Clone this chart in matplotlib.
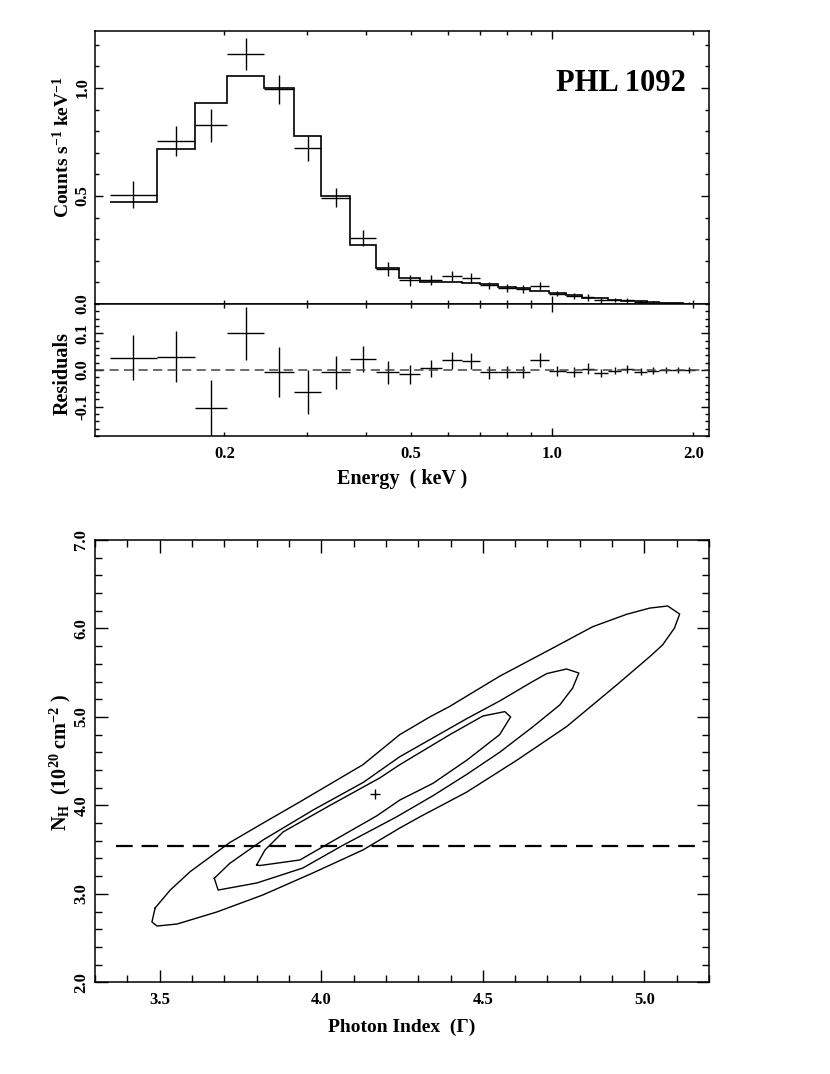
import numpy as np
import matplotlib
matplotlib.use("Agg")
import matplotlib.pyplot as plt
from matplotlib.ticker import MultipleLocator, FixedLocator, FuncFormatter

plt.rcParams['font.family'] = ['Liberation Serif', 'DejaVu Serif']
plt.rcParams['font.weight'] = 'bold'
plt.rcParams['mathtext.fontset'] = 'custom'
plt.rcParams['mathtext.rm'] = 'Liberation Serif:bold'
plt.rcParams['mathtext.it'] = 'Liberation Serif:italic:bold'
plt.rcParams['mathtext.bf'] = 'Liberation Serif:bold'
plt.rcParams['axes.unicode_minus'] = False

# spectrum: bin edges (keV), data, model, 1-sigma errors (counts/s/keV)
edges = [0.114, 0.1435, 0.1734, 0.203, 0.2427, 0.2821, 0.322, 0.3707, 0.4212,
         0.4715, 0.5228, 0.5815, 0.6416, 0.702, 0.768, 0.838, 0.897, 0.985,
         1.069, 1.156, 1.229, 1.318, 1.400, 1.496, 1.596, 1.693, 1.799, 1.904, 2.017]
counts = [0.506, 0.754, 0.828, 1.157, 0.994, 0.720, 0.492, 0.305, 0.162, 0.110,
          0.109, 0.128, 0.120, 0.086, 0.074, 0.069, 0.085, 0.048, 0.035, 0.031,
          0.017, 0.017, 0.017, 0.008, 0.006, 0.004, 0.003, 0.002]
model = [0.472, 0.718, 0.932, 1.057, 1.000, 0.780, 0.498, 0.275, 0.168, 0.122,
         0.104, 0.101, 0.095, 0.092, 0.080, 0.075, 0.058, 0.051, 0.040, 0.028,
         0.026, 0.019, 0.014, 0.013, 0.008, 0.004, 0.003, 0.002]
errors = [0.062, 0.070, 0.076, 0.073, 0.068, 0.060, 0.045, 0.036, 0.031, 0.026,
          0.023, 0.023, 0.022, 0.018, 0.017, 0.017, 0.018, 0.013, 0.014, 0.015,
          0.011, 0.009, 0.011, 0.010, 0.009, 0.007, 0.007, 0.007]

# confidence contours (photon index, N_H in 1e20 cm^-2)
outer_gamma = [3.486, 3.532, 3.594, 3.717, 3.820, 3.934, 4.129, 4.243, 4.336, 4.398,
               4.552, 4.707, 4.840, 4.945, 5.016, 5.072, 5.109, 5.093, 5.056, 5.016,
               4.914, 4.759, 4.605, 4.450, 4.305, 4.243, 4.129, 3.974, 3.819, 3.677,
               3.554, 3.492, 3.476, 3.486]
outer_nh = [2.84, 3.04, 3.25, 3.58, 3.80, 4.04, 4.46, 4.80, 5.00, 5.12,
            5.46, 5.76, 6.02, 6.16, 6.23, 6.254, 6.163, 6.005, 5.813, 5.68,
            5.361, 4.89, 4.51, 4.15, 3.87, 3.744, 3.496, 3.236, 2.987, 2.795,
            2.659, 2.636, 2.682, 2.84]
middle_gamma = [3.669, 3.717, 3.820, 3.975, 4.130, 4.243, 4.450, 4.552, 4.654, 4.698,
                4.759, 4.797, 4.778, 4.738, 4.654, 4.552, 4.450, 4.346, 4.233, 4.063,
                3.943, 3.801, 3.681, 3.669]
middle_nh = [3.176, 3.345, 3.609, 3.948, 4.26, 4.55, 4.98, 5.18, 5.40, 5.49,
             5.542, 5.496, 5.327, 5.135, 4.886, 4.60, 4.35, 4.11, 3.87, 3.541,
             3.292, 3.123, 3.043, 3.176]
inner_gamma = [3.800, 3.826, 3.882, 4.027, 4.181, 4.243, 4.398, 4.500, 4.568, 4.586,
               4.552, 4.450, 4.346, 4.243, 4.171, 4.068, 3.934, 3.810, 3.800]
inner_nh = [3.326, 3.496, 3.70, 4.00, 4.31, 4.46, 4.80, 5.01, 5.06, 5.00,
            4.80, 4.51, 4.25, 4.06, 3.88, 3.665, 3.383, 3.32, 3.326]
best_gamma = 4.166
best_nh = 4.13
galactic_nh = 3.54
galactic_span = [3.365, 5.176]

edges = np.array(edges)
counts = np.array(counts)
model = np.array(model)
errors = np.array(errors)
centers = np.sqrt(edges[:-1] * edges[1:])
xerr = [centers - edges[:-1], edges[1:] - centers]
resid = counts - model

fig = plt.figure(figsize=(8.3, 10.74), dpi=100)
ax1 = fig.add_axes([0.1145, 0.71695, 0.7398, 0.25419])
ax2 = fig.add_axes([0.1145, 0.59404, 0.7398, 0.12291], sharex=ax1)
ax3 = fig.add_axes([0.1145, 0.08538, 0.7398, 0.41183])

for ax in (ax1, ax2, ax3):
    for s in ax.spines.values():
        s.set_linewidth(1.1)

# top: spectrum
ax1.errorbar(centers, counts, xerr=xerr, yerr=errors, fmt='none', ecolor='k',
             elinewidth=1.0, capsize=0)
ax1.stairs(model, edges, baseline=None, color='k', lw=1.2)
ax1.set_xscale('log')
ax1.set_xlim(0.106, 2.16)
ax1.set_ylim(0, 1.264)
ax1.yaxis.set_major_locator(MultipleLocator(0.5))
ax1.yaxis.set_minor_locator(MultipleLocator(0.1))
ax1.yaxis.set_major_formatter(FuncFormatter(lambda v, p: f'{v:.1f}'))
ax1.text(0.9625, 0.806, 'PHL 1092', transform=ax1.transAxes, ha='right', va='center',
         fontsize=22, fontweight='bold')

# middle: residuals
ax2.errorbar(centers, resid, xerr=xerr, yerr=errors, fmt='none', ecolor='k',
             elinewidth=1.0, capsize=0)
ax2.axhline(0, color='#444444', lw=1.1, ls=(0, (6, 3.5)))
ax2.set_ylim(-0.18, 0.18)
ax2.yaxis.set_major_locator(MultipleLocator(0.1))
ax2.yaxis.set_minor_locator(MultipleLocator(0.02))
ax2.yaxis.set_major_formatter(FuncFormatter(lambda v, p: f'{v:.1f}'))

major_e = [1.0]
minor_e = [0.2, 0.3, 0.4, 0.5, 0.6, 0.7, 0.8, 0.9, 2.0]
shown_e = [0.2, 0.5, 2.0]
ax2.xaxis.set_major_locator(FixedLocator(major_e))
ax2.xaxis.set_minor_locator(FixedLocator(minor_e))
ax2.xaxis.set_major_formatter(FuncFormatter(lambda v, p: f'{v:.1f}'))
ax2.xaxis.set_minor_formatter(FuncFormatter(
    lambda v, p: f'{v:.1f}' if any(abs(v - s) < 1e-6 for s in shown_e) else ''))
plt.setp(ax1.get_xticklabels(which='both'), visible=False)

for ax in (ax1, ax2):
    ax.tick_params(which='both', direction='in', top=True, right=True, width=1.0,
                   labelsize=12)
    ax.tick_params(which='major', length=6)
    ax.tick_params(which='minor', length=3)
    ax.tick_params(axis='y', which='both', labelrotation=90, pad=3)
    ax.tick_params(axis='x', which='both', pad=7)
for lab in ax1.get_yticklabels() + ax2.get_yticklabels():
    lab.set_verticalalignment('center')

fig.text(0.0759, 0.8627, 'Counts s$^{-1}$ keV$^{-1}$', rotation=90, ha='center',
         va='center', fontsize=14, fontweight='bold')
fig.text(0.0759, 0.6518, 'Residuals', rotation=90, ha='center', va='center',
         fontsize=14.5, fontweight='bold')
fig.text(0.4843, 0.554, 'Energy  ( keV )', ha='center', va='center', fontsize=14.5,
         fontweight='bold')

# bottom: contours
ax3.plot(outer_gamma, outer_nh, color='k', lw=1.0)
ax3.plot(middle_gamma, middle_nh, color='k', lw=1.0)
ax3.plot(inner_gamma, inner_nh, color='k', lw=1.0)
ax3.plot(best_gamma, best_nh, marker='+', ms=7, mew=1.0, color='k')
ax3.plot(galactic_span, [galactic_nh, galactic_nh], color='k', lw=1.6,
         ls=(0, (7.5, 4)))
ax3.set_xlim(3.3, 5.2)
ax3.set_ylim(2.0, 7.0)
ax3.xaxis.set_major_locator(MultipleLocator(0.5))
ax3.xaxis.set_minor_locator(MultipleLocator(0.1))
ax3.yaxis.set_major_locator(MultipleLocator(1.0))
ax3.yaxis.set_minor_locator(MultipleLocator(0.2))
ax3.xaxis.set_major_formatter(FuncFormatter(lambda v, p: f'{v:.1f}'))
ax3.yaxis.set_major_formatter(FuncFormatter(lambda v, p: f'{v:.1f}'))
ax3.tick_params(which='both', direction='in', top=True, right=True, width=1.0,
                labelsize=12)
ax3.tick_params(which='major', length=9)
ax3.tick_params(which='minor', length=5)
ax3.tick_params(axis='y', which='both', labelrotation=90, pad=4)
ax3.tick_params(axis='x', which='both', pad=7)
for lab in ax3.get_yticklabels():
    lab.set_verticalalignment('center')

fig.text(0.0723, 0.2905, 'N$_{\\mathrm{H}}$  (10$^{20}$ cm$^{-2}$ )', rotation=90,
         ha='center', va='center', fontsize=14.5, fontweight='bold')
fig.text(0.4843, 0.0435, 'Photon Index  (Γ)', ha='center', va='center', fontsize=14,
         fontweight='bold')

fig.savefig('out.png', dpi=100)
